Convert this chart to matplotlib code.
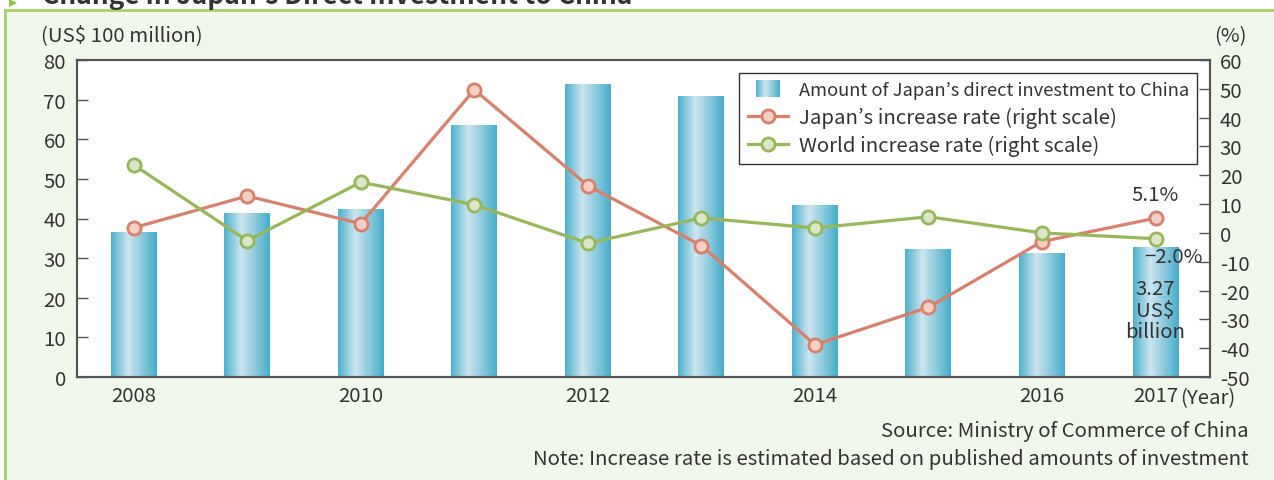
import numpy as np
import matplotlib.pyplot as plt
from matplotlib.colors import LinearSegmentedColormap
from matplotlib.patches import Rectangle, Polygon
from matplotlib.lines import Line2D

plt.rcParams['font.family'] = ['Noto Sans CJK JP', 'DejaVu Sans']
plt.rcParams['axes.unicode_minus'] = False

# data
years = [2008, 2009, 2010, 2011, 2012, 2013, 2014, 2015, 2016, 2017]
tick_labels = ['2008', '', '2010', '', '2012', '', '2014', '', '2016', '2017']
investment = [36.6, 41.4, 42.4, 63.6, 74.0, 71.0, 43.4, 32.3, 31.3, 32.7]   # US$ 100 million
japan_rate = [1.8, 12.8, 3.2, 49.7, 16.4, -4.4, -38.8, -25.8, -3.0, 5.1]  # %
world_rate = [23.6, -2.7, 17.6, 9.8, -3.6, 5.2, 1.7, 5.6, 0.0, -2.0]      # %

W, H = 1274, 481
txt = '#333333'
fs = 14.7

bar_cmap = LinearSegmentedColormap.from_list(
    'bar', [(0, '#4bb1cd'), (0.38, '#cde6ef'), (1, '#45adca')])


class GradientHandler:
    # draws the legend swatch as thin vertical slices of the bar gradient
    def legend_artist(self, legend, orig_handle, fontsize, handlebox):
        w, h = 17.3, 11.8
        x0 = handlebox.xdescent + (handlebox.width - w) / 2
        y0 = handlebox.ydescent + (handlebox.height - h) / 2
        n = 24
        first = None
        for i in range(n):
            r = Rectangle((x0 + i * w / n, y0), w / n + 0.05, h,
                          facecolor=bar_cmap((i + 0.5) / n), edgecolor='none',
                          transform=handlebox.get_transform())
            handlebox.add_artist(r)
            first = first or r
        return first


fig = plt.figure(figsize=(W / 100, H / 100), dpi=100)
fig.patch.set_facecolor('white')

# green panel behind the chart
fig.add_artist(Rectangle((5 / W, 0), 1, 1 - 11 / H, transform=fig.transFigure,
                         facecolor='#f2f7ec', edgecolor='none', zorder=0))
fig.add_artist(Line2D([5 / W, 1], [1 - 11 / H] * 2, color='#a6d06c', lw=2))
fig.add_artist(Line2D([5 / W] * 2, [0, 1 - 11 / H], color='#a6d06c', lw=2))
fig.add_artist(Polygon([[9 / W, 1], [9 / W, 1 - 8 / H], [17 / W, 1 - 4 / H]],
                       closed=True, transform=fig.transFigure,
                       facecolor='#8cc63f', edgecolor='none'))
fig.text(42 / W, 1 - 4 / H, 'Change in Japan’s Direct Investment to China',
         fontsize=19, fontweight='bold', color=txt, va='baseline')

ax = fig.add_axes([77 / W, 103 / H, 1133 / W, 317 / H])
ax.set_facecolor('white')
x = np.arange(len(years))

bars = ax.bar(x, investment, width=0.405, color='none', edgecolor='none', zorder=2)
grad = np.linspace(0, 1, 256).reshape(1, -1)
for b in bars:
    x0, y0, w, h = b.get_x(), b.get_y(), b.get_width(), b.get_height()
    im = ax.imshow(grad, cmap=bar_cmap, extent=[x0, x0 + w, y0, y0 + h],
                   aspect='auto', origin='lower', zorder=2)
    im.set_clip_path(b)

ax.set_xlim(-0.5, 9.48)
ax.set_ylim(0, 80)
ax.set_xticks(x)
ax.set_xticklabels(tick_labels)
ax.set_yticks(range(0, 81, 10))
ax.tick_params(axis='x', length=0, pad=6, labelsize=fs, labelcolor=txt)
ax.tick_params(axis='y', direction='in', length=8, width=1, pad=8,
               labelsize=fs, labelcolor=txt, color='#555555')

ax2 = ax.twinx()
ax2.set_ylim(-50, 60)
ax2.set_yticks(range(-50, 61, 10))
ax2.tick_params(axis='y', direction='in', length=8, width=1, pad=7,
                labelsize=fs, labelcolor=txt, color='#555555')

for a in (ax, ax2):
    for s in a.spines.values():
        s.set_color('#555555')
        s.set_linewidth(1.5)

l1, = ax2.plot(x, japan_rate, color='#d9806c', lw=2.3, marker='o', ms=9.5,
               mfc='#f3cfc4', mec='#d9806c', mew=2, zorder=3)
l2, = ax2.plot(x, world_rate, color='#98b75a', lw=2.3, marker='o', ms=9.5,
               mfc='#dbe6c6', mec='#98b75a', mew=2, zorder=3)

ax2.annotate('5.1%', (x[-1], japan_rate[-1]), xytext=(0, 17), textcoords='offset points',
             ha='center', va='center', fontsize=fs, color=txt)
ax2.annotate('−2.0%', (x[-1], world_rate[-1]), xytext=(13, -13), textcoords='offset points',
             ha='center', va='center', fontsize=fs, color=txt)
ax.text(x[-1], 16.9, '3.27\nUS$\nbillion', ha='center', va='center',
        fontsize=fs, color=txt, linespacing=1.05, zorder=4)
ax.annotate('(Year)', (x[-1], 0), xytext=(18, -7), textcoords='offset points',
            xycoords=('data', 'axes fraction'), ha='left', va='top',
            fontsize=fs, color=txt)

bar_handle = Rectangle((0, 0), 1, 1)
leg = ax2.legend([bar_handle, l1, l2],
                 ['Amount of Japan’s direct investment to China',
                  'Japan’s increase rate (right scale)',
                  'World increase rate (right scale)'],
                 handler_map={Rectangle: GradientHandler()},
                 loc='upper right', bbox_to_anchor=(0.9885, 0.959),
                 fontsize=fs, fancybox=False, framealpha=1, edgecolor='#333333',
                 borderpad=0.4, handlelength=2.0, handletextpad=0.5,
                 labelspacing=0.35, borderaxespad=0)
leg.get_frame().set_linewidth(1)
for t in leg.get_texts():
    t.set_color(txt)
# the first label is set narrower in the original
leg.get_texts()[0].set_fontsize(13.2)

fig.text(41 / W, 1 - 36 / H, '(US$ 100 million)', fontsize=fs, color=txt, va='center')
fig.text(1247 / W, 1 - 37 / H, '(%)', fontsize=fs, color=txt, va='center', ha='right')
fig.text(1249 / W, 1 - 432 / H, 'Source: Ministry of Commerce of China',
         fontsize=fs, color=txt, va='center', ha='right')
fig.text(1249 / W, 1 - 460 / H,
         'Note: Increase rate is estimated based on published amounts of investment',
         fontsize=fs, color=txt, va='center', ha='right')

fig.savefig('out.png', dpi=100)
